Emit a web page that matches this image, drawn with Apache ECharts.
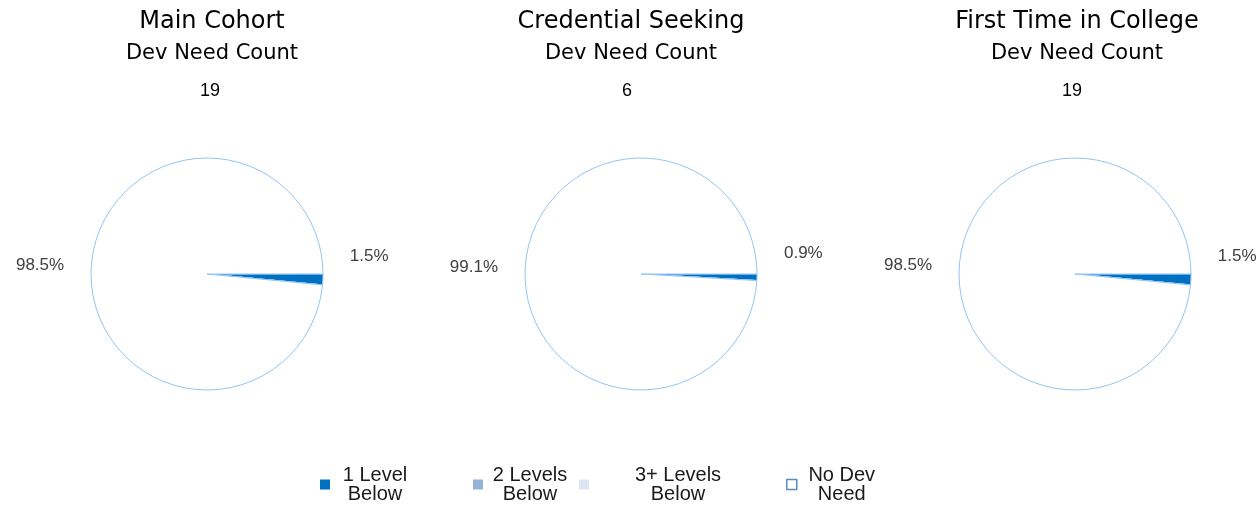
<!DOCTYPE html>
<html>
<head>
<meta charset="utf-8">
<script src="https://cdn.jsdelivr.net/npm/echarts@6/dist/echarts.min.js"></script>
<style>html,body{margin:0;padding:0;background:#fff;}#c{width:1260px;height:506px;}</style>
</head>
<body>
<div id="c"></div>
<script>
// ---- data ----
const chartTitles = ['Main Cohort', 'Credential Seeking', 'First Time in College'];
const subTitle = 'Dev Need Count';
const categories = ['1 Level Below', '2 Levels Below', '3+ Levels Below', 'No Dev Need'];
const mainCohort = [19, 0, 0, 1248];
const credentialSeeking = [6, 0, 0, 661];
const firstTimeInCollege = [19, 0, 0, 1248];
const seriesValues = [mainCohort, credentialSeeking, firstTimeInCollege];

// ---- styling / layout ----
const colors = ['#0070C0', '#95B3D7', '#DCE6F2', '#FFFFFF'];
const pieCenters = [207, 641, 1075];
const titleCenters = [212, 631, 1077];
const countCenters = [210, 627, 1072];
const legendLefts = [320, 473, 579, 786];
const legendTextWidths = [80, 84, 168, 80];

const titles = [];
chartTitles.forEach((t, i) => {
  titles.push({
    text: t, subtext: subTitle,
    left: titleCenters[i], top: 10, textAlign: 'center', padding: 0, itemGap: 9,
    textStyle: {fontFamily: 'DejaVu Sans', fontSize: 24, fontWeight: 'normal', color: '#000'},
    subtextStyle: {fontFamily: 'DejaVu Sans', fontSize: 21, color: '#000'}
  });
  const count = seriesValues[i].slice(0, 3).reduce((a, b) => a + b, 0);
  titles.push({
    text: String(count),
    left: countCenters[i], top: 82, textAlign: 'center', padding: 0,
    textStyle: {fontFamily: 'Liberation Sans', fontSize: 18, fontWeight: 'normal', color: '#000'}
  });
});

const series = seriesValues.map((vals, i) => ({
  type: 'pie',
  center: [pieCenters[i], 274],
  radius: 116,
  startAngle: 0,
  clockwise: true,
  avoidLabelOverlap: false,
  silent: true,
  itemStyle: {borderColor: '#92C5F5', borderWidth: 1},
  label: {
    show: true, position: 'outside',
    fontFamily: 'Liberation Sans', fontSize: 17, color: '#404040',
    formatter: p => p.percent.toFixed(1) + '%'
  },
  labelLine: {show: false, length: 10, length2: 12},
  labelLayout: p => ({dy: p.dataIndex === 0 ? -24 : -3}),
  data: categories.map((name, k) => ({
    name: name, value: vals[k],
    itemStyle: {color: colors[k]},
    label: vals[k] === 0 ? {show: false} : undefined
  }))
}));

const legends = categories.map((name, k) => ({
  left: legendLefts[k], top: 465, padding: 0, orient: 'horizontal',
  itemWidth: 10, itemHeight: 10, itemGap: 0,
  data: [{
    name: name, icon: 'rect',
    itemStyle: k === 3 ? {color: '#FFFFFF', borderColor: '#5B87C9', borderWidth: 1.5} : {color: colors[k], borderWidth: 0}
  }],
  formatter: n => {
    const m = n.match(/^(.*) (\S+)$/);
    return '{t|' + m[1] + '}\n{t|' + m[2] + '}';
  },
  textStyle: {
    rich: {t: {width: legendTextWidths[k], align: 'center', fontFamily: 'Liberation Sans', fontSize: 20, lineHeight: 19, color: '#1a1a1a'}}
  },
  selectedMode: false
}));

const chart = echarts.init(document.getElementById('c'));
chart.setOption({
  animation: false,
  backgroundColor: '#ffffff',
  title: titles,
  legend: legends,
  series: series
});
</script>
</body>
</html>
